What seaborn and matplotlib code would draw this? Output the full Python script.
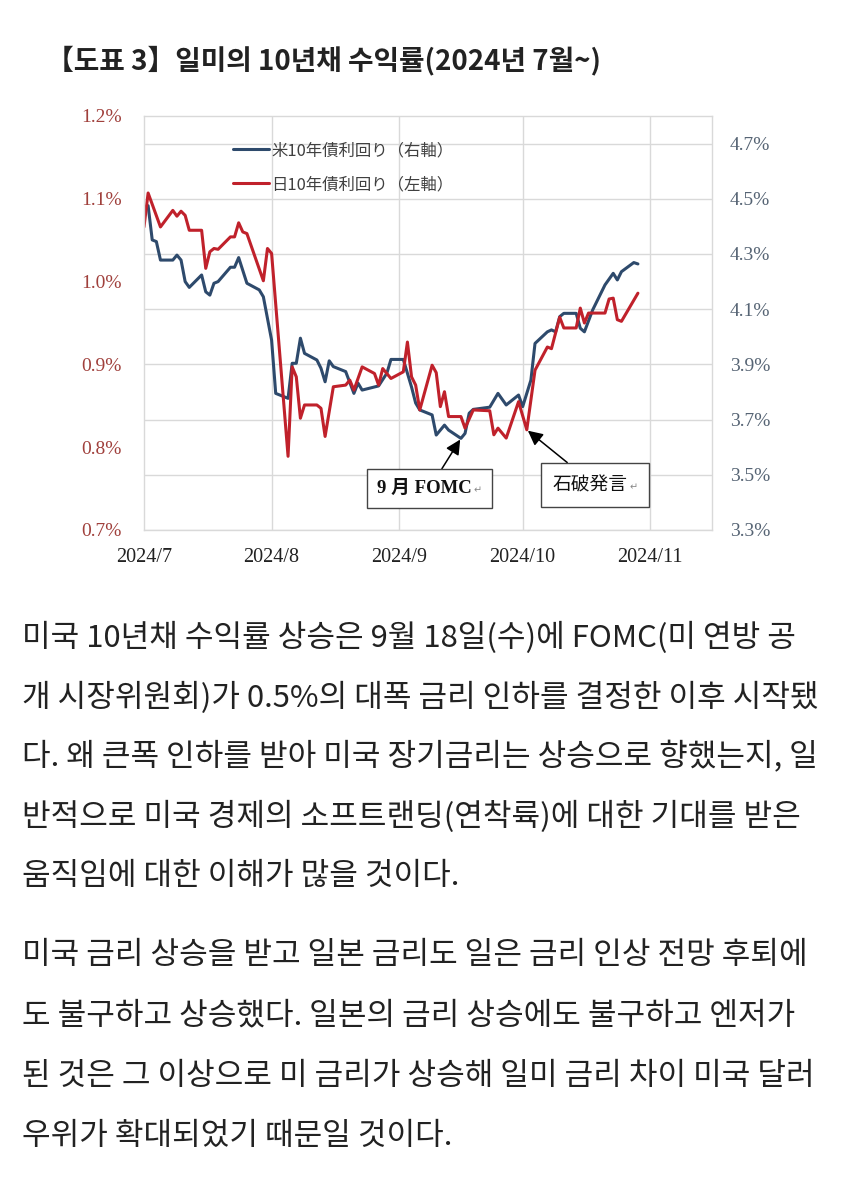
import numpy as np
import pandas as pd
import matplotlib
matplotlib.use("Agg")
import matplotlib.pyplot as plt
import matplotlib.dates as mdates
import seaborn as sns
from matplotlib.offsetbox import TextArea, HPacker, AnnotationBbox

# ---------------- data ----------------
jp_dates = ["2024-07-01", "2024-07-02", "2024-07-05", "2024-07-08", "2024-07-09", "2024-07-10",
            "2024-07-11", "2024-07-12", "2024-07-15", "2024-07-16", "2024-07-17", "2024-07-18",
            "2024-07-19", "2024-07-22", "2024-07-23", "2024-07-24", "2024-07-25", "2024-07-26",
            "2024-07-30", "2024-07-31", "2024-08-01", "2024-08-05", "2024-08-06", "2024-08-07",
            "2024-08-08", "2024-08-09", "2024-08-12", "2024-08-13", "2024-08-14", "2024-08-16",
            "2024-08-19", "2024-08-20", "2024-08-21", "2024-08-23", "2024-08-26", "2024-08-27",
            "2024-08-28", "2024-08-29", "2024-08-30", "2024-09-02", "2024-09-03", "2024-09-04",
            "2024-09-05", "2024-09-06", "2024-09-09", "2024-09-10", "2024-09-11", "2024-09-12",
            "2024-09-13", "2024-09-16", "2024-09-17", "2024-09-19", "2024-09-23", "2024-09-24",
            "2024-09-25", "2024-09-27", "2024-09-30", "2024-10-02", "2024-10-04", "2024-10-07",
            "2024-10-08", "2024-10-10", "2024-10-11", "2024-10-14", "2024-10-15", "2024-10-16",
            "2024-10-17", "2024-10-21", "2024-10-22", "2024-10-23", "2024-10-24", "2024-10-25",
            "2024-10-29"]
jp_yield = [1.066, 1.107, 1.066, 1.086, 1.079, 1.085,
            1.080, 1.062, 1.062, 1.016, 1.036, 1.040,
            1.039, 1.054, 1.054, 1.071, 1.060, 1.058,
            1.001, 1.040, 1.034, 0.789, 0.897, 0.885,
            0.835, 0.851, 0.851, 0.847, 0.813, 0.873,
            0.875, 0.881, 0.869, 0.897, 0.889, 0.875,
            0.895, 0.889, 0.883, 0.891, 0.927, 0.885,
            0.875, 0.845, 0.899, 0.890, 0.849, 0.867,
            0.837, 0.837, 0.823, 0.845, 0.844, 0.815,
            0.823, 0.811, 0.855, 0.821, 0.893, 0.921,
            0.919, 0.957, 0.944, 0.944, 0.968, 0.950,
            0.962, 0.962, 0.979, 0.980, 0.954, 0.952,
            0.986]

us_dates = ["2024-07-01", "2024-07-02", "2024-07-03", "2024-07-04", "2024-07-05", "2024-07-08",
            "2024-07-09", "2024-07-10", "2024-07-11", "2024-07-12", "2024-07-15", "2024-07-16",
            "2024-07-17", "2024-07-18", "2024-07-19", "2024-07-22", "2024-07-23", "2024-07-24",
            "2024-07-26", "2024-07-29", "2024-07-30", "2024-08-01", "2024-08-02", "2024-08-05",
            "2024-08-06", "2024-08-07", "2024-08-08", "2024-08-09", "2024-08-12", "2024-08-13",
            "2024-08-14", "2024-08-15", "2024-08-16", "2024-08-19", "2024-08-21", "2024-08-22",
            "2024-08-23", "2024-08-27", "2024-08-29", "2024-08-30", "2024-09-02", "2024-09-04",
            "2024-09-05", "2024-09-06", "2024-09-09", "2024-09-10", "2024-09-12", "2024-09-13",
            "2024-09-16", "2024-09-17", "2024-09-18", "2024-09-19", "2024-09-23", "2024-09-25",
            "2024-09-27", "2024-09-30", "2024-10-01", "2024-10-03", "2024-10-04", "2024-10-07",
            "2024-10-08", "2024-10-09", "2024-10-10", "2024-10-11", "2024-10-14", "2024-10-15",
            "2024-10-16", "2024-10-18", "2024-10-21", "2024-10-23", "2024-10-24", "2024-10-25",
            "2024-10-28", "2024-10-29"]
us_yield = [4.465, 4.475, 4.351, 4.345, 4.278, 4.278,
            4.296, 4.278, 4.200, 4.179, 4.224, 4.163,
            4.151, 4.194, 4.200, 4.252, 4.252, 4.287,
            4.194, 4.170, 4.145, 3.988, 3.795, 3.777,
            3.904, 3.904, 3.995, 3.940, 3.916, 3.886,
            3.837, 3.913, 3.892, 3.874, 3.795, 3.832,
            3.807, 3.822, 3.868, 3.918, 3.918, 3.818,
            3.760, 3.735, 3.717, 3.644, 3.680, 3.662,
            3.632, 3.650, 3.723, 3.737, 3.745, 3.795,
            3.753, 3.789, 3.747, 3.843, 3.976, 4.018,
            4.025, 4.018, 4.073, 4.085, 4.085, 4.031,
            4.018, 4.097, 4.188, 4.230, 4.206, 4.236,
            4.269, 4.264]

month_ticks = ["2024-07-01", "2024-08-01", "2024-09-01", "2024-10-01", "2024-11-01"]
month_labels = ["2024/7", "2024/8", "2024/9", "2024/10", "2024/11"]
left_ticks = [0.7, 0.8, 0.9, 1.0, 1.1, 1.2]
right_ticks = [3.3, 3.5, 3.7, 3.9, 4.1, 4.3, 4.5, 4.7]
x_range = ["2024-07-01", "2024-11-16"]
left_range = [0.7, 1.2]
right_range = [3.3, 4.8]

us_label = "米10年債利回り（右軸）"
jp_label = "日10年債利回り（左軸）"
fomc_label = "9 月 FOMC"
fomc_date = "2024-09-16"
ishiba_label = "石破発言"
ishiba_date = "2024-10-02"

title = "【도표 3】일미의 10년채 수익률(2024년 7월~)"
para1 = ["미국 10년채 수익률 상승은 9월 18일(수)에 FOMC(미 연방 공",
         "개 시장위원회)가 0.5%의 대폭 금리 인하를 결정한 이후 시작됐",
         "다. 왜 큰폭 인하를 받아 미국 장기금리는 상승으로 향했는지, 일",
         "반적으로 미국 경제의 소프트랜딩(연착륙)에 대한 기대를 받은",
         "움직임에 대한 이해가 많을 것이다."]
para2 = ["미국 금리 상승을 받고 일본 금리도 일은 금리 인상 전망 후퇴에",
         "도 불구하고 상승했다. 일본의 금리 상승에도 불구하고 엔저가",
         "된 것은 그 이상으로 미 금리가 상승해 일미 금리 차이 미국 달러",
         "우위가 확대되었기 때문일 것이다."]

# ---------------- style ----------------
sns.set_theme(style="white")
KR = ["Noto Sans CJK KR", "DejaVu Sans"]
JP = ["Noto Sans CJK JP", "DejaVu Sans"]
SERIF = ["Liberation Serif", "Noto Sans CJK JP", "DejaVu Sans"]
plt.rcParams["font.family"] = KR

BLUE = "#2e4a6c"
RED = "#c0212b"
GRID = "#d9d9d9"

jp_df = pd.DataFrame({"date": pd.to_datetime(jp_dates), "yield": jp_yield})
us_df = pd.DataFrame({"date": pd.to_datetime(us_dates), "yield": us_yield})

fig = plt.figure(figsize=(8.5, 11.8), dpi=100)
fig.patch.set_facecolor("white")

ax = fig.add_axes([144 / 850, 1 - 530 / 1180, 568 / 850, 414 / 1180])
ax2 = ax.twinx()
ax.set_zorder(ax2.get_zorder() + 1)
ax.patch.set_visible(False)

sns.lineplot(data=us_df, x="date", y="yield", ax=ax2, color=BLUE, lw=2.2,
             label=us_label, legend=False)
sns.lineplot(data=jp_df, x="date", y="yield", ax=ax, color=RED, lw=2.2,
             label=jp_label, legend=False)

xt = pd.to_datetime(month_ticks)
ax.set_xlim(pd.to_datetime(x_range[0]), pd.to_datetime(x_range[1]))
ax.set_ylim(*left_range)
ax2.set_ylim(*right_range)

ax.set_xticks(xt)
ax.set_xticklabels(month_labels, family=SERIF, fontsize=14.5, color="#222222")
ax.set_yticks(left_ticks)
ax.set_yticklabels([f"{v:.1f}%" for v in left_ticks], family=SERIF, fontsize=14, color="#a0403c")
ax2.set_yticks(right_ticks)
ax2.set_yticklabels([f"{v:.1f}%" for v in right_ticks], family=SERIF, fontsize=14, color="#566474")

ax.tick_params(axis="x", length=0, pad=13)
ax.tick_params(axis="y", length=0, pad=16)
ax2.tick_params(axis="y", length=0, pad=13)
ax.set_xlabel("")
ax.set_ylabel("")
ax2.set_ylabel("")

# gridlines (behind both series)
ax2.grid(axis="y", color=GRID, lw=1.0)
ax2.set_axisbelow(True)
for d in xt[1:]:
    ax2.axvline(d, color=GRID, lw=1.0, zorder=0)
for s in ax.spines.values():
    s.set_color(GRID)
    s.set_linewidth(1.0)
for s in ax2.spines.values():
    s.set_visible(False)

# legend
h2, l2 = ax2.get_legend_handles_labels()
h1, l1 = ax.get_legend_handles_labels()
leg = ax.legend(h2 + h1, l2 + l1, loc="upper left", bbox_to_anchor=((233 - 144) / 568, (530 - 142) / 414),
                frameon=False, borderpad=0, borderaxespad=0, handlelength=2.2,
                handletextpad=0.15, labelspacing=1.05,
                prop={"family": JP, "size": 11.8})
for t in leg.get_texts():
    t.set_color("#404040")

# annotations
def make_box(main, bold, fam):
    a = TextArea(main, textprops=dict(family=fam, fontsize=13.5, weight="bold" if bold else "normal",
                                      color="#111111"))
    b = TextArea("↵", textprops=dict(family=["DejaVu Sans"], fontsize=7, color="#888888"))
    return HPacker(children=[a, b], align="baseline", pad=0, sep=1)

fomc_val = us_df.loc[us_df["date"] == pd.to_datetime(fomc_date), "yield"].iloc[0]
ab1 = AnnotationBbox(make_box(fomc_label, True, SERIF),
                     (mdates.date2num(pd.to_datetime(fomc_date)), fomc_val),
                     xycoords=ax2.transData,
                     xybox=((429.5 - 144) / 568, (530 - 488.5) / 414), boxcoords=ax.transAxes,
                     pad=0.7, bboxprops=dict(edgecolor="#444444", lw=1.0, facecolor="white"),
                     arrowprops=dict(arrowstyle="-|>", color="black", lw=1.1, mutation_scale=16,
                                     shrinkA=0, shrinkB=1))
ax.add_artist(ab1)

ishiba_val = jp_df.loc[jp_df["date"] == pd.to_datetime(ishiba_date), "yield"].iloc[0]
ab2 = AnnotationBbox(make_box(ishiba_label, False, JP),
                     (mdates.date2num(pd.to_datetime(ishiba_date)), ishiba_val),
                     xycoords=ax.transData,
                     xybox=((595 - 144) / 568, (530 - 485) / 414), boxcoords=ax.transAxes,
                     pad=0.75, bboxprops=dict(edgecolor="#444444", lw=1.0, facecolor="white"),
                     arrowprops=dict(arrowstyle="-|>", color="black", lw=1.1, mutation_scale=16,
                                     shrinkA=0, shrinkB=1))
ax.add_artist(ab2)

# title and body text
fig.text(46 / 850, 1 - 60 / 1180, title, fontsize=20, weight="bold", va="center",
         family=KR, color="#222222")
y0 = 638
for i, line in enumerate(para1):
    fig.text(22 / 850, 1 - (y0 + i * 59.5) / 1180, line, fontsize=22.4, va="center",
             family=KR, weight="light", color="#222222")
y1 = 956
for i, line in enumerate(para2):
    fig.text(22 / 850, 1 - (y1 + i * 60) / 1180, line, fontsize=22.4, va="center",
             family=KR, weight="light", color="#222222")

fig.savefig("out.png", dpi=100, facecolor="white")
